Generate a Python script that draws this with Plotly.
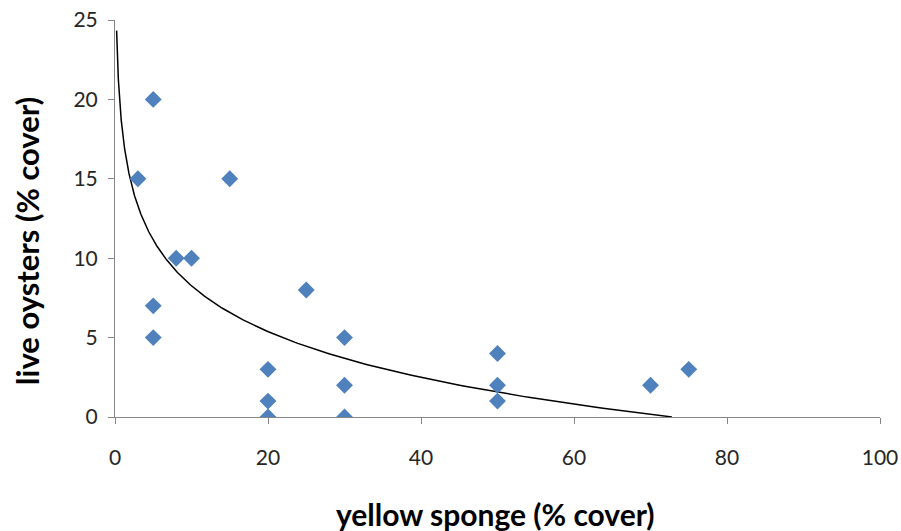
import numpy as np
import plotly.graph_objects as go

# Scatter data
sponge_cover = [5, 3, 15, 8, 10, 5, 5, 25, 20, 20, 20, 30, 30, 30, 50, 50, 50, 70, 75]
oyster_cover = [20, 15, 15, 10, 10, 7, 5, 8, 3, 1, 0, 5, 2, 0, 4, 2, 1, 2, 3]

# Logarithmic trendline y = a*ln(x) + b (coefficients)
trend_a = -4.16
trend_b = 17.84
trend_x_start = 0.21
trend_x_end = 72.8

x_ticks = [0, 20, 40, 60, 80, 100]
y_ticks = [0, 5, 10, 15, 20, 25]

trend_x = np.geomspace(trend_x_start, trend_x_end, 400)
trend_y = trend_a * np.log(trend_x) + trend_b

fig = go.Figure()
fig.add_trace(go.Scatter(
    x=trend_x, y=trend_y, mode="lines",
    line=dict(color="black", width=1.5),
    hoverinfo="skip", showlegend=False,
))
fig.add_trace(go.Scatter(
    x=sponge_cover, y=oyster_cover, mode="markers",
    marker=dict(symbol="diamond", size=13, color="#4F81BD", line=dict(width=0)),
    showlegend=False,
))

font_family = "Lato, 'Open Sans', sans-serif"
axis_common = dict(
    showgrid=False, zeroline=False, showline=True,
    linecolor="#868686", linewidth=1,
    ticks="outside", ticklen=6, tickcolor="#868686", tickwidth=1,
    tickfont=dict(family=font_family, size=21, color="#262626"),
    ticklabeloverflow="allow", automargin=False,
)

fig.update_layout(
    width=901, height=531,
    margin=dict(l=115, r=21, t=20, b=114, autoexpand=False),
    paper_bgcolor="white", plot_bgcolor="white",
    xaxis=dict(range=[0, 100], tickvals=x_ticks, ticklabelstandoff=16, **axis_common),
    yaxis=dict(range=[0, 25], tickvals=y_ticks, ticklabelstandoff=6, **axis_common),
)

fig.add_annotation(
    text="<b>yellow sponge (% cover)</b>", xref="paper", yref="paper",
    x=0.5, xshift=-2, y=0, yshift=-97, xanchor="center", yanchor="middle", showarrow=False,
    font=dict(family=font_family, size=30, color="black"),
)
fig.add_annotation(
    text="<b>live oysters (% cover)</b>", xref="paper", yref="paper",
    x=0, xshift=-88, y=0.443, xanchor="center", yanchor="middle", textangle=-90,
    showarrow=False,
    font=dict(family=font_family, size=31, color="black"),
)

fig.write_html(
    "out.html",
    config={"displayModeBar": False},
    post_script="document.body.style.margin='0';",
)
